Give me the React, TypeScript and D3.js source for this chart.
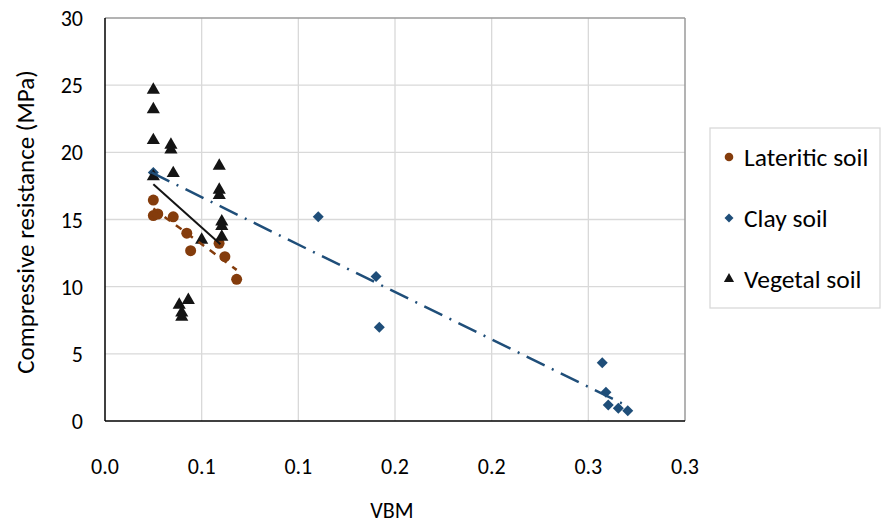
import React from "react";
import * as d3 from "d3";

// VBM vs compressive resistance measurements, one array per soil type
const lateriticX = [0.025, 0.025, 0.0273, 0.0353, 0.0423, 0.0443, 0.059, 0.062, 0.0681];
const lateriticY = [16.45, 15.29, 15.41, 15.2, 13.98, 12.68, 13.23, 12.23, 10.55];

const clayX = [0.025, 0.1103, 0.1402, 0.1419, 0.2572, 0.2591, 0.2603, 0.2655, 0.2704];
const clayY = [18.5, 15.21, 10.75, 6.98, 4.34, 2.14, 1.19, 0.95, 0.77];

const vegetalX = [
  0.025, 0.025, 0.025, 0.025, 0.0341, 0.0341, 0.0353, 0.0591, 0.0591, 0.0591,
  0.0604, 0.0604, 0.0604, 0.05, 0.0384, 0.0431, 0.0397, 0.0397,
];
const vegetalY = [
  24.65, 23.2, 20.9, 18.2, 20.55, 20.2, 18.44, 18.99, 17.2, 16.8,
  14.84, 14.5, 13.7, 13.48, 8.64, 9.0, 8.06, 7.74,
];

// Linear trendlines (start/end points over each series' VBM range)
const lateriticTrendX = [0.025, 0.0681];
const lateriticTrendY = [15.81, 11.25];
const clayTrendX = [0.024, 0.2704];
const clayTrendY = [18.5, 1.1];
const vegetalTrendX = [0.025, 0.0597];
const vegetalTrendY = [17.62, 13.15];

const xTicks = [0, 0.05, 0.1, 0.15, 0.2, 0.25, 0.3];
const xTickLabels = ["0.0", "0.1", "0.1", "0.2", "0.2", "0.3", "0.3"];
const yTicks = [0, 5, 10, 15, 20, 25, 30];
const yTickLabels = ["0", "5", "10", "15", "20", "25", "30"];

const seriesNames = ["Lateritic soil", "Clay soil", "Vegetal soil"];

const BROWN = "#843C0C";
const BLUE = "#1F4E79";
const BLACK = "#141414";
const FONT = "Carlito, Calibri, Lato, sans-serif";

const W = 885;
const H = 525;
const left = 105;
const right = 685;
const top = 18;
const bottom = 421;

const x = d3.scaleLinear().domain([0, 0.3]).range([left, right]);
const y = d3.scaleLinear().domain([0, 30]).range([bottom, top]);

const tri = d3.symbol().type(d3.symbolTriangle).size(75)() as string;
const dia = (s: number) => `M0,${-s}L${s},0L0,${s}L${-s},0Z`;

const trendPath = (xs: number[], ys: number[]) =>
  d3.line<number>()((xs.map((v, i) => [x(v), y(ys[i])]) as unknown) as any) as string;

export default function App() {
  return (
    <svg
      width={W}
      height={H}
      style={{ position: "absolute", left: 0, top: 0, background: "#fff" }}
      fontFamily={FONT}
    >
      {/* gridlines */}
      {xTicks.slice(1, -1).map((t) => (
        <line key={"gx" + t} x1={x(t)} x2={x(t)} y1={top} y2={bottom} stroke="#d9d9d9" strokeWidth={1.3} />
      ))}
      {yTicks.slice(1, -1).map((t) => (
        <line key={"gy" + t} x1={left} x2={right} y1={y(t)} y2={y(t)} stroke="#d9d9d9" strokeWidth={1.3} />
      ))}
      {/* plot frame */}
      <line x1={left} x2={right} y1={top} y2={top} stroke="#9a9a9a" strokeWidth={1.5} />
      <line x1={right} x2={right} y1={top} y2={bottom} stroke="#9a9a9a" strokeWidth={1.5} />
      <line x1={left} x2={left} y1={top} y2={bottom} stroke="#000" strokeWidth={1.5} />
      <line x1={left} x2={right} y1={bottom} y2={bottom} stroke="#000" strokeWidth={1.5} />

      {/* tick labels */}
      {xTicks.map((t, i) => (
        <text key={"xt" + i} x={x(t)} y={474} textAnchor="middle" fontSize={22} fill="#000">
          {xTickLabels[i]}
        </text>
      ))}
      {yTicks.map((t, i) => (
        <text key={"yt" + i} x={83} y={y(t) + 8} textAnchor="end" fontSize={22} fill="#000">
          {yTickLabels[i]}
        </text>
      ))}

      {/* axis titles */}
      <text x={392} y={518} textAnchor="middle" fontSize={22} fill="#000">
        VBM
      </text>
      <text
        transform={`translate(34, 222) rotate(-90)`}
        textAnchor="middle"
        fontSize={25}
        fill="#000"
      >
        Compressive resistance (MPa)
      </text>

      {/* lateritic soil */}
      {lateriticX.map((v, i) => (
        <circle key={"l" + i} cx={x(v)} cy={y(lateriticY[i])} r={5.5} fill={BROWN} />
      ))}
      {/* clay soil */}
      {clayX.map((v, i) => (
        <path key={"c" + i} d={dia(5.5)} transform={`translate(${x(v)},${y(clayY[i])})`} fill={BLUE} />
      ))}
      {/* vegetal soil */}
      {vegetalX.map((v, i) => (
        <path key={"v" + i} d={tri} transform={`translate(${x(v)},${y(vegetalY[i])})`} fill={BLACK} />
      ))}

      {/* trendlines */}
      <path d={trendPath(lateriticTrendX, lateriticTrendY)} stroke={BROWN} strokeWidth={2.5} strokeDasharray="7 7" fill="none" />
      <path d={trendPath(clayTrendX, clayTrendY)} stroke={BLUE} strokeWidth={2.5} strokeDasharray="20 8 2 8" fill="none" />
      <path d={trendPath(vegetalTrendX, vegetalTrendY)} stroke={BLACK} strokeWidth={2} fill="none" />

      {/* legend */}
      <rect x={710} y={128} width={170} height={180} fill="#fff" stroke="#d9d9d9" strokeWidth={1.3} />
      {seriesNames.map((name, i) => {
        const cy = 157 + i * 61;
        return (
          <g key={name}>
            {i === 0 && <circle cx={729} cy={cy} r={4.3} fill={BROWN} />}
            {i === 1 && <path d={dia(4.5)} transform={`translate(729,${cy})`} fill={BLUE} />}
            {i === 2 && (
              <path
                d={d3.symbol().type(d3.symbolTriangle).size(45)() as string}
                transform={`translate(729,${cy})`}
                fill={BLACK}
              />
            )}
            <text x={744} y={cy + 9} fontSize={25.5} fill="#000">
              {name}
            </text>
          </g>
        );
      })}
    </svg>
  );
}
